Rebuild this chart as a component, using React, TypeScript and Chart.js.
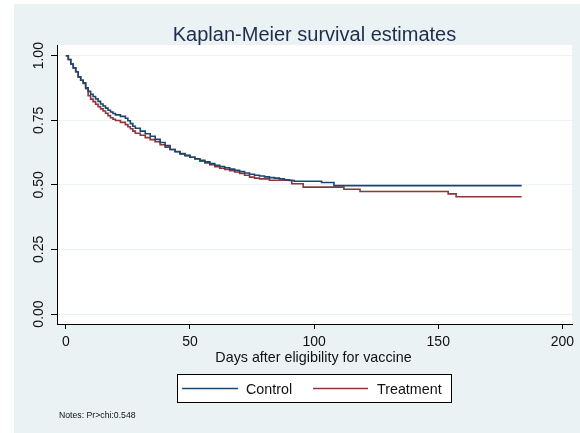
import React, { useEffect, useRef } from "react";
import { Chart, registerables } from "chart.js";

Chart.register(...registerables);

// ---- data ----
const seriesNames = ["Control", "Treatment"];

const controlDays = [
  0, 1, 2, 3, 4, 5, 6, 7, 8, 9, 10, 11, 12, 13, 14, 15, 16, 17, 18, 19, 20,
  22, 24, 25, 26, 27, 28,
  30, 32, 34, 36, 38, 40, 42, 44, 46, 48, 50, 52, 54, 56, 58, 60, 62, 64, 66, 68,
  70, 72, 74, 76, 78, 80, 82, 84, 86, 88, 90, 92,
  103, 108, 183.6,
];
const controlSurv = [
  1.0, 0.985, 0.968, 0.953, 0.938, 0.918, 0.905, 0.895, 0.876, 0.862, 0.851,
  0.842, 0.833, 0.823, 0.813, 0.805, 0.797, 0.789, 0.782, 0.776, 0.771,
  0.765, 0.758, 0.748, 0.737, 0.727, 0.719,
  0.708, 0.698, 0.688, 0.676, 0.664, 0.652, 0.637, 0.628, 0.620, 0.613, 0.607,
  0.601, 0.595, 0.589, 0.582, 0.576, 0.571, 0.566, 0.561, 0.556,
  0.551, 0.546, 0.541, 0.537, 0.534, 0.531, 0.528, 0.526, 0.523, 0.520, 0.517,
  0.514, 0.509, 0.497, 0.497,
];

const treatDays = [
  0, 1, 2, 3, 4, 5, 6, 7, 8, 9, 10, 11, 12, 13, 14, 15, 16, 17, 18, 19, 20,
  22, 24, 25, 26, 27, 28,
  30, 32, 34, 36, 38, 40, 42, 44, 46, 48, 50, 52, 54, 56, 58, 60, 62, 64, 66, 68,
  70, 72, 74, 76, 78, 82, 91, 95.6, 112, 118.5, 154, 157.2, 183.6,
];
const treatSurv = [
  1.0, 0.985, 0.968, 0.953, 0.938, 0.918, 0.905, 0.893, 0.872, 0.845, 0.832,
  0.822, 0.812, 0.803, 0.794, 0.786, 0.777, 0.768, 0.760, 0.754, 0.749,
  0.742, 0.733, 0.725, 0.717, 0.708, 0.700,
  0.692, 0.683, 0.675, 0.667, 0.655, 0.646, 0.637, 0.629, 0.621, 0.614, 0.607,
  0.600, 0.592, 0.585, 0.578, 0.570, 0.564, 0.560, 0.555, 0.550,
  0.544, 0.537, 0.530, 0.526, 0.523, 0.518, 0.504, 0.491, 0.483, 0.474, 0.465,
  0.454, 0.454,
];

const xTickValues = [0, 50, 100, 150, 200];
const yTickValues = [0, 0.25, 0.5, 0.75, 1];
const yTickLabels = ["0.00", "0.25", "0.50", "0.75", "1.00"];

const titleText = "Kaplan-Meier survival estimates";
const xTitleText = "Days after eligibility for vaccine";
const noteText = "Notes: Pr>chi:0.548";

const seriesColors = ["#1a476f", "#90353b"];
const FONT = "'Liberation Sans', Arial, Helvetica, sans-serif";

const bgPlugin = {
  id: "bg",
  beforeDraw(chart: any) {
    const ctx = chart.ctx;
    const { left, top, right, bottom } = chart.chartArea;
    ctx.save();
    ctx.fillStyle = "#ffffff";
    ctx.fillRect(0, 0, chart.width, chart.height);
    ctx.fillStyle = "#eaf2f3";
    ctx.fillRect(14, 4, chart.width - 14, chart.height - 4);
    ctx.fillStyle = "#ffffff";
    ctx.fillRect(left, top, right - left, bottom - top);
    ctx.restore();
  },
};

const textPlugin = {
  id: "texts",
  afterDraw(chart: any) {
    const ctx = chart.ctx;
    const ys = chart.scales.y;
    const { left, right } = chart.chartArea;
    const cx = (left + right) / 2;
    ctx.save();
    // title
    ctx.fillStyle = "#1e2d4e";
    ctx.font = `20px ${FONT}`;
    ctx.textAlign = "center";
    ctx.textBaseline = "alphabetic";
    ctx.fillText(titleText, cx, 41);

    // y tick labels (rotated)
    ctx.fillStyle = "#111111";
    ctx.font = `14px ${FONT}`;
    yTickValues.forEach((v, i) => {
      const py = ys.getPixelForValue(v);
      ctx.save();
      ctx.translate(39.5, py);
      ctx.rotate(-Math.PI / 2);
      ctx.textAlign = "center";
      ctx.textBaseline = "middle";
      ctx.fillText(yTickLabels[i], 0, 0);
      ctx.restore();
    });

    // x title
    ctx.font = `14.3px ${FONT}`;
    ctx.textAlign = "center";
    ctx.textBaseline = "alphabetic";
    ctx.fillText(xTitleText, cx - 1, 361.5);

    // legend
    const bx = 177.5, by = 374.5, bw = 274, bh = 28;
    ctx.fillStyle = "#ffffff";
    ctx.fillRect(bx, by, bw, bh);
    ctx.strokeStyle = "#000000";
    ctx.lineWidth = 1;
    ctx.strokeRect(bx, by, bw, bh);
    const ly = 388.5;
    const items = [
      { x1: 182, x2: 238, tx: 246 },
      { x1: 313, x2: 368, tx: 377 },
    ];
    items.forEach((it, i) => {
      ctx.strokeStyle = seriesColors[i];
      ctx.lineWidth = 1.6;
      ctx.beginPath();
      ctx.moveTo(it.x1, ly);
      ctx.lineTo(it.x2, ly);
      ctx.stroke();
      ctx.fillStyle = "#111111";
      ctx.font = `14.3px ${FONT}`;
      ctx.textAlign = "left";
      ctx.textBaseline = "alphabetic";
      ctx.fillText(chart.data.datasets[i].label, it.tx, 393.6);
    });

    // notes
    ctx.fillStyle = "#111111";
    ctx.font = `8.7px ${FONT}`;
    ctx.textAlign = "left";
    ctx.fillText(noteText, 59, 418);
    ctx.restore();
  },
};

export default function App() {
  const ref = useRef<HTMLCanvasElement | null>(null);

  useEffect(() => {
    const canvas = ref.current;
    if (!canvas) return;
    const ctrlPts = controlDays.map((d, i) => ({ x: d, y: controlSurv[i] }));
    const trtPts = treatDays.map((d, i) => ({ x: d, y: treatSurv[i] }));

    const chart = new Chart(canvas, {
      type: "line",
      data: {
        datasets: [
          {
            label: seriesNames[0],
            data: ctrlPts,
            borderColor: seriesColors[0],
            borderWidth: 1.6,
            pointRadius: 0,
            stepped: "before",
            fill: false,
          },
          {
            label: seriesNames[1],
            data: trtPts,
            borderColor: seriesColors[1],
            borderWidth: 1.6,
            pointRadius: 0,
            stepped: "before",
            fill: false,
          },
        ],
      },
      options: {
        responsive: false,
        animation: false,
        devicePixelRatio: 1,
        layout: { padding: { left: 0, right: 8, top: 45, bottom: 0 } },
        plugins: {
          legend: { display: false },
          title: { display: false },
          tooltip: { enabled: false },
        },
        scales: {
          x: {
            type: "linear",
            min: -3.544,
            max: 203.87,
            afterBuildTicks: (s: any) => {
              s.ticks = xTickValues.map((v) => ({ value: v }));
            },
            afterFit: (s: any) => {
              s.height = 109;
            },
            grid: {
              drawOnChartArea: false,
              drawTicks: true,
              tickLength: 5,
              tickColor: "#000000",
              tickWidth: 1,
            },
            border: { color: "#000000", width: 1 },
            ticks: {
              color: "#111111",
              font: { family: FONT, size: 14 },
              padding: 5,
              minRotation: 0,
              maxRotation: 0,
              autoSkip: false,
              callback: (v: any) => String(v),
            },
          },
          y: {
            type: "linear",
            min: -0.0387,
            max: 1.0414,
            afterBuildTicks: (s: any) => {
              s.ticks = yTickValues.map((v) => ({ value: v }));
            },
            afterFit: (s: any) => {
              s.width = 57;
            },
            grid: {
              color: "#eaf2f3",
              lineWidth: 1,
              drawTicks: true,
              tickLength: 6,
              tickColor: "#000000",
              tickWidth: 1,
            },
            border: { color: "#000000", width: 1 },
            ticks: { display: false },
          },
        },
      },
      plugins: [bgPlugin, textPlugin],
    });
    return () => chart.destroy();
  }, []);

  return (
    <div style={{ position: "fixed", left: 0, top: 0, width: 580, height: 433 }}>
      <canvas
        ref={ref}
        width={580}
        height={433}
        style={{ display: "block", width: 580, height: 433 }}
      />
    </div>
  );
}
